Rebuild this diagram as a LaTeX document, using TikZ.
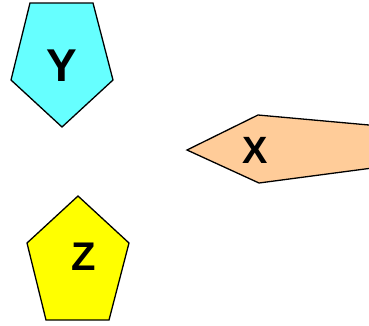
\documentclass[tikz,border=0pt]{standalone}
\usepackage{fontspec}
\setmainfont{Liberation Sans}
\definecolor{cyanfill}{HTML}{66FFFF}
\definecolor{peach}{HTML}{FFCC99}
\definecolor{yel}{HTML}{FFFF00}
\begin{document}
\begin{tikzpicture}[x=1pt,y=-1pt,
  shapeline/.style={draw=black,line width=1.3pt,line join=miter},
  lbl/.style={font=\fontsize{38}{38}\selectfont\bfseries,inner sep=0pt,anchor=center}]
\useasboundingbox (0,0) rectangle (369,325);
\begin{scope}
\clip (0,0) rectangle (369,325);
\draw[shapeline,fill=cyanfill] (30,3) -- (93,3) -- (113,80) -- (62,127) -- (11,80) -- cycle;
\draw[shapeline,fill=peach] (187,150) -- (258,115) -- (380,126) -- (380,167) -- (259,183) -- cycle;
\draw[shapeline,fill=yel] (78,196) -- (129,243) -- (109,320) -- (46,320) -- (27,243) -- cycle;
\end{scope}
\node[lbl,font=\fontsize{46}{46}\selectfont\bfseries] (Y) at (61.5,66) {Y};
\node[lbl] (X) at (255.5,150.5) {X};
\node[lbl,font=\fontsize{40}{40}\selectfont\bfseries] (Z) at (84,256.5) {Z};
\end{tikzpicture}
\end{document}
